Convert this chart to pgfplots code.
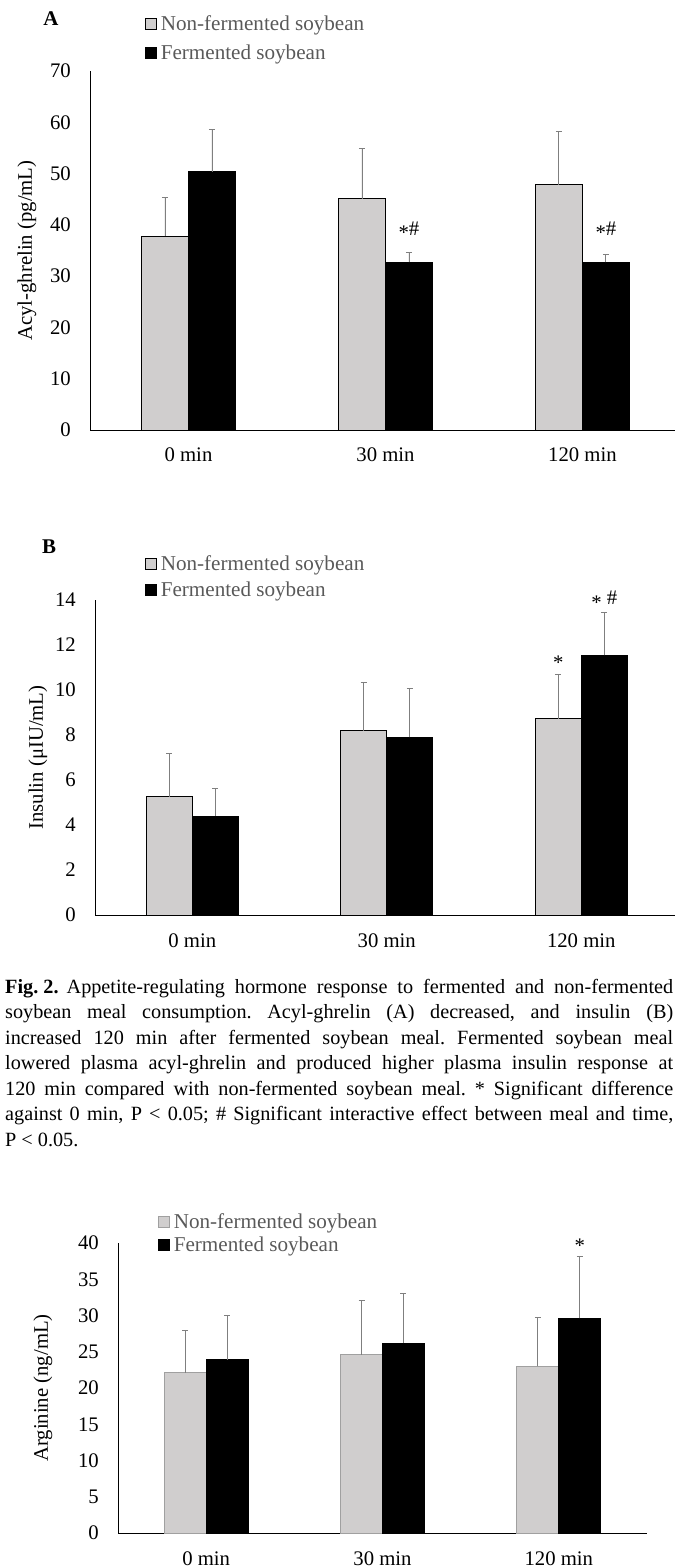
\documentclass[border=0pt]{standalone}
\usepackage{fontspec}
\setmainfont{Liberation Serif}
\usepackage{pgfplots}
\pgfplotsset{compat=1.18}
\definecolor{nfgray}{HTML}{D0CECE}
\definecolor{errgray}{HTML}{7F7F7F}
\definecolor{leggray}{HTML}{595959}
\definecolor{nfedgeC}{HTML}{A0A0A0}
\newcommand\cf{\fontsize{20.8}{24}\selectfont}
\newcommand\lf{\fontsize{21.2}{24}\selectfont}
\pgfplotsset{
  panel/.style={
    scale only axis, clip=false,
    axis lines*=left, axis line style={black, line width=1bp},
    ymin=0, xmin=-0.5,
    xtick={0,1,2}, xticklabels={0 min,30 min,120 min},
    major tick length=0pt,
    tick style={draw=none},
    /pgf/number format/assume math mode=true,
    ticklabel style={font=\cf, inner sep=0pt},
    yticklabel style={xshift=-19bp},
    xticklabel style={yshift=-18bp},
    legend cell align=left,
    legend style={draw=none, fill=none, inner sep=0pt, outer sep=0pt, anchor=north west,
      font=\lf, text=leggray, nodes={inner sep=0pt},
      /tikz/every odd column/.style={column sep=4bp}},
    label style={font=\cf},
  },
  sq/.style={legend image code/.code={\draw[##1] (0bp,-5.5bp) rectangle (11bp,5.5bp);}},
  eb/.style={error bars/.cd, y dir=plus, y explicit,
    error bar style={errgray, line width=0.9bp},
    error mark options={rotate=90, errgray, mark size=3bp, line width=0.9bp}},
}
\begin{document}
\begin{tikzpicture}[x=1bp,y=1bp]
\useasboundingbox (0,0) rectangle (675,-1568);
% panel letters
\node[font=\fontsize{21}{24}\selectfont\bfseries] at (51,-19) {A};
\node[font=\fontsize{21}{24}\selectfont\bfseries] at (49,-547) {B};

% ---------------- Panel A ----------------
\begin{axis}[panel,
  at={(90bp,-430bp)}, anchor=south west,
  width=585bp, height=359bp,
  xmax=2.47, ymax=70, ytick={0,10,...,70},
  ylabel={Acyl-ghrelin (pg/mL)},
  ylabel style={at={(axis description cs:-0.108,0.5)}, anchor=center},
  legend style={at={(0.094,1.154)}, row sep=13bp},
]
\addplot[ybar, bar width=47bp, bar shift=0pt, fill=nfgray, draw=black, line width=0.8bp, sq, eb]
  coordinates {(-0.1193,37.8) +- (0,7.6) (0.8807,45.1) +- (0,9.8) (1.8807,47.8) +- (0,10.5)};
\addlegendentry{Non-fermented soybean}
\addplot[ybar, bar width=47bp, bar shift=0pt, fill=black, draw=black, line width=0.8bp, sq, eb]
  coordinates {(0.1193,50.4) +- (0,8.2) (1.1193,32.7) +- (0,2.0) (2.1193,32.7) +- (0,1.5)};
\addlegendentry{Fermented soybean}
\node[font=\cf] at (axis cs:1.1193,38.9) {\raisebox{-0.22em}{*}\#};
\node[font=\cf] at (axis cs:2.1193,38.9) {\raisebox{-0.22em}{*}\#};
\end{axis}

% ---------------- Panel B ----------------
\begin{axis}[panel,
  at={(95bp,-915bp)}, anchor=south west,
  width=580bp, height=315bp,
  xmax=2.482, ymax=14, ytick={0,2,...,14},
  ylabel={Insulin (μIU/mL)},
  ylabel style={at={(axis description cs:-0.0983,0.5)}, anchor=center},
  legend style={at={(0.0862,1.14)}, row sep=10bp},
]
\addplot[ybar, bar width=46bp, bar shift=0pt, fill=nfgray, draw=black, line width=0.8bp, sq, eb]
  coordinates {(-0.1183,5.26) +- (0,1.90) (0.8817,8.19) +- (0,2.14) (1.8817,8.73) +- (0,1.98)};
\addlegendentry{Non-fermented soybean}
\addplot[ybar, bar width=46bp, bar shift=0pt, fill=black, draw=black, line width=0.8bp, sq, eb]
  coordinates {(0.1183,4.40) +- (0,1.21) (1.1183,7.90) +- (0,2.16) (2.1183,11.54) +- (0,1.90)};
\addlegendentry{Fermented soybean}
\node[font=\cf] at (axis cs:1.8817,11.2) {\raisebox{-0.22em}{*}};
\node[font=\cf] at (axis cs:2.1183,14.0) {\raisebox{-0.22em}{*} \#};
\end{axis}

% ---------------- Caption ----------------
\node[anchor=north west, inner sep=0pt, text width=668bp, align=justify,
  font=\fontsize{20.3}{25.6}\selectfont] at (5,-979) {\noindent\hyphenpenalty=10000\frenchspacing
\mbox{\textbf{Fig. 2.}}\hspace{0.4em}Appetite-regulating hormone response to fermented and non-fermented\linebreak
soybean meal consumption. Acyl-ghrelin (A) decreased, and insulin (B)\linebreak
increased 120 min after fermented soybean meal. Fermented soybean meal\linebreak
lowered plasma acyl-ghrelin and produced higher plasma insulin response at\linebreak
120 min compared with non-fermented soybean meal. * Significant difference\linebreak
against 0 min, P < 0.05; \# Significant interactive effect between meal and time,\linebreak
P < 0.05.};

% ---------------- Panel C ----------------
\begin{axis}[panel,
  at={(118bp,-1533bp)}, anchor=south west,
  width=529bp, height=290bp,
  xmax=2.5, ymax=40, ytick={0,5,...,40},
  ylabel={Arginine (ng/mL)},
  ylabel style={at={(axis description cs:-0.1418,0.5)}, anchor=center},
  legend style={at={(0.0756,1.102)}, row sep=7bp},
]
\addplot[ybar, bar width=42bp, bar shift=0pt, fill=nfgray, draw=nfedgeC, line width=0.8bp, sq, eb]
  coordinates {(-0.119,22.1) +- (0,5.8) (0.881,24.6) +- (0,7.5) (1.881,23.0) +- (0,6.7)};
\addlegendentry{Non-fermented soybean}
\addplot[ybar, bar width=42bp, bar shift=0pt, fill=black, draw=black, line width=0.8bp, sq, eb]
  coordinates {(0.119,23.9) +- (0,6.1) (1.119,26.2) +- (0,6.9) (2.119,29.6) +- (0,8.5)};
\addlegendentry{Fermented soybean}
\node[font=\cf] at (axis cs:2.119,39.6) {*};
\end{axis}
\end{tikzpicture}
\end{document}
